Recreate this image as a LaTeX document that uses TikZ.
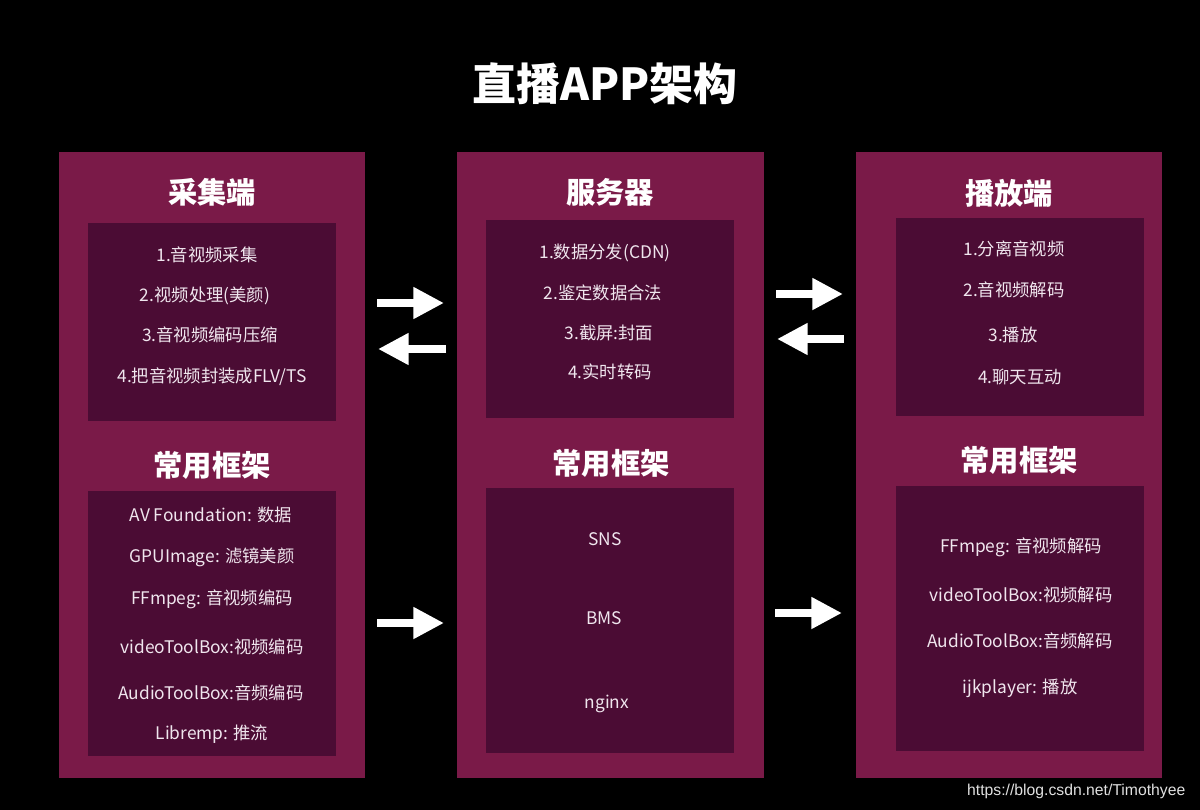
\documentclass[tikz,border=0pt]{standalone}
\usepackage{fontspec}
\setmainfont{Noto Sans CJK SC}
\newfontfamily\wmfont{Liberation Sans}
\usepackage{xcolor}
\usetikzlibrary{arrows.meta, positioning}

\definecolor{outerc}{RGB}{122,26,72}
\definecolor{innerc}{RGB}{75,12,52}
\definecolor{itemc}{RGB}{240,230,238}

\begin{document}
\begin{tikzpicture}[x=0.75pt, y=-0.75pt,
  outerbox/.style={rectangle, fill=outerc, inner sep=0pt, minimum width=230pt, minimum height=469.5pt},
  innertop/.style={rectangle, fill=innerc, inner sep=0pt, minimum width=186pt, minimum height=148.5pt},
  innerbot/.style={rectangle, fill=innerc, inner sep=0pt, minimum width=186pt, minimum height=199pt},
  heading/.style={text=white, font=\bfseries\fontsize{22}{25}\selectfont},
  item/.style={text=itemc, font=\fontsize{13}{15}\selectfont},
  bigarrow/.style={draw=white, line width=6.5pt, -{Triangle[length=23pt, width=22.5pt]}}]
\fill[black] (0,0) rectangle (1200,810);
\useasboundingbox (0,0) rectangle (1200,810);
\node[text=white, font=\bfseries\fontsize{33}{36}\selectfont] (title) at (605,84) {直播APP架构};
% three columns
\node[outerbox] (capture) at (212,465) {};
\node[outerbox] (server) at (610.5,465) {};
\node[outerbox] (player) at (1009,465) {};
\node[innertop] (captop) at (211.5,322) {};
\node[innerbot] (capbot) at (211.5,623.5) {};
\node[innertop] (srvtop) at (610,318.5) {};
\node[innerbot] (srvbot) at (610,620.5) {};
\node[innertop] (plytop) at (1019.5,316.5) {};
\node[innerbot] (plybot) at (1019.5,618.5) {};
% headings
\node[heading] (caphead) at (212,192) {采集端};
\node[heading] (srvhead) at (610,192) {服务器};
\node[heading] (plyhead) at (1009,193) {播放端};
\node[heading] (capframe) at (212,465) {常用框架};
\node[heading] (srvframe) at (611,463) {常用框架};
\node[heading] (plyframe) at (1019,460) {常用框架};
% capture items
\node[item] (cap1) at (207,255) {1.音视频采集};
\node[item] (cap2) at (205,296) {2.视频处理(美颜)};
\node[item] (cap3) at (210,335) {3.音视频编码压缩};
\node[item] (cap4) at (212,377) {4.把音视频封装成FLV/TS};
\node[item] (capf1) at (211,515) {AV Foundation: 数据};
\node[item] (capf2) at (212,557) {GPUImage: 滤镜美颜};
\node[item] (capf3) at (212,599) {FFmpeg: 音视频编码};
\node[item] (capf4) at (212,647) {videoToolBox:视频编码};
\node[item] (capf5) at (211,693) {AudioToolBox:音频编码};
\node[item] (capf6) at (212,734) {Libremp: 推流};
% server items
\node[item] (srv1) at (605,253) {1.数据分发(CDN)};
\node[item] (srv2) at (603,293) {2.鉴定数据合法};
\node[item] (srv3) at (609,333) {3.截屏:封面};
\node[item] (srv4) at (610,372) {4.实时转码};
\node[item] (srvf1) at (605,539) {SNS};
\node[item] (srvf2) at (604,618) {BMS};
\node[item] (srvf3) at (607,704) {nginx};
% player items
\node[item] (ply1) at (1014,249) {1.分离音视频};
\node[item] (ply2) at (1014,290) {2.音视频解码};
\node[item] (ply3) at (1013,335) {3.播放};
\node[item] (ply4) at (1020,377) {4.聊天互动};
\node[item] (plyf1) at (1021,547) {FFmpeg: 音视频解码};
\node[item] (plyf2) at (1021,595) {videoToolBox:视频解码};
\node[item] (plyf3) at (1020,641) {AudioToolBox:音频解码};
\node[item] (plyf4) at (1020,688) {ijkplayer: 播放};
% arrows between columns
\coordinate (up1a) at (377,303);
\coordinate (up1b) at (444,303);
\coordinate (up2a) at (446,349);
\coordinate (up2b) at (378,349);
\coordinate (up3a) at (776,294);
\coordinate (up3b) at (843,294);
\coordinate (up4a) at (844,339);
\coordinate (up4b) at (777,339);
\coordinate (lo1a) at (377,623);
\coordinate (lo1b) at (444,623);
\coordinate (lo2a) at (775,613);
\coordinate (lo2b) at (842,613);
\draw[bigarrow] (up1a) -- (up1b);
\draw[bigarrow] (up2a) -- (up2b);
\draw[bigarrow] (up3a) -- (up3b);
\draw[bigarrow] (up4a) -- (up4b);
\draw[bigarrow] (lo1a) -- (lo1b);
\draw[bigarrow] (lo2a) -- (lo2b);
\node[text=black!12, font=\wmfont\fontsize{11.8}{14}\selectfont, anchor=east] (mark) at (1190,791) {https://blog.csdn.net/Timothyee};
\end{tikzpicture}
\end{document}
